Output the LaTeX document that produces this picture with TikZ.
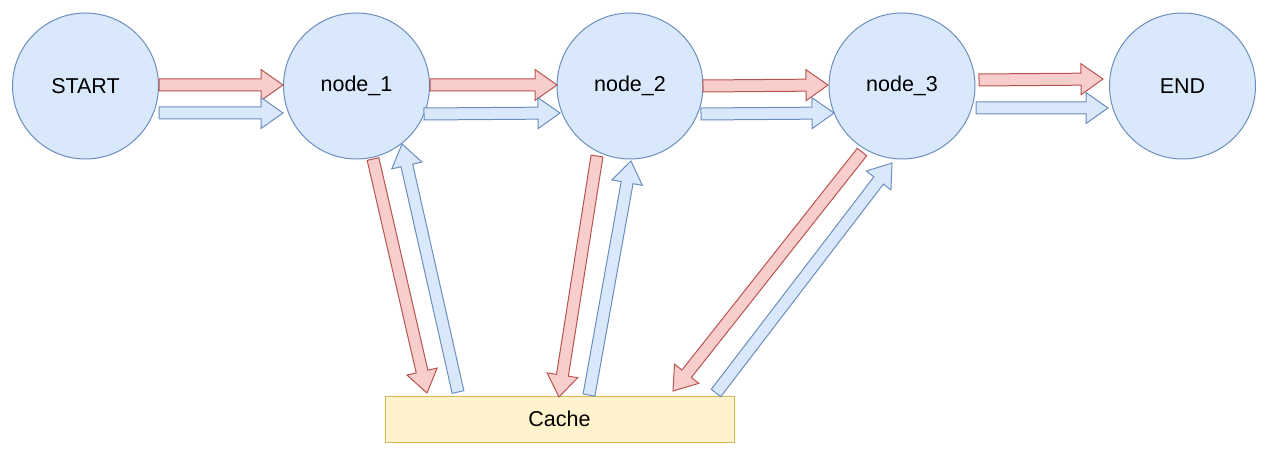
\documentclass[tikz,border=0pt]{standalone}
\usepackage{fontspec}
\setmainfont{Liberation Sans}
\usetikzlibrary{calc}
\definecolor{bfill}{HTML}{DAE8FC}
\definecolor{bline}{HTML}{6C8EBF}
\definecolor{rfill}{HTML}{F8CECC}
\definecolor{rline}{HTML}{B85450}
\definecolor{yfill}{HTML}{FFF2CC}
\definecolor{yline}{HTML}{D6B656}
\newcommand\blockarr[3]{%
  \coordinate (#2h) at ($(#3)!22pt!(#2)$);
  \draw[#1] ($(#2)!6pt!90:(#3)$) -- ($(#2h)!6pt!-90:(#2)$) -- ($(#2h)!15.5pt!-90:(#2)$)
    -- (#3) -- ($(#2h)!15.5pt!90:(#2)$) -- ($(#2h)!6pt!90:(#2)$) -- ($(#2)!6pt!-90:(#3)$) -- cycle;}
\begin{document}
\begin{tikzpicture}[x=1pt,y=-1pt,
  statenode/.style={circle,draw=bline,fill=bfill,line width=1pt,minimum size=146pt,inner sep=0pt,
    font=\fontsize{21.5}{26}\selectfont},
  cachebox/.style={draw=yline,fill=yfill,line width=1pt,minimum width=349pt,minimum height=46pt,inner sep=0pt,
    font=\fontsize{21.5}{26}\selectfont},
  redarr/.style={draw=rline,fill=rfill,line width=1pt,line join=miter},
  bluearr/.style={draw=bline,fill=bfill,line width=1pt,line join=miter}]
\useasboundingbox (0,0) rectangle (1269,454);
\node[statenode] (start) at (85.5,86) {START};
\node[statenode] (n1) at (356.5,86) {node\_1};
\node[statenode] (n2) at (630,86) {node\_2};
\node[statenode] (n3) at (902,86) {node\_3};
\node[statenode] (end) at (1182.5,86) {END};
\node[cachebox] (cache) at (559.5,419) {Cache};
% coordinates: tails (t) and tips (p)
\coordinate (a1rt) at (159,85);  \coordinate (a1rp) at (283,85);
\coordinate (a1bt) at (159,113); \coordinate (a1bp) at (283,113);
\coordinate (a2rt) at (430,85);  \coordinate (a2rp) at (557,85);
\coordinate (a2bt) at (424,114); \coordinate (a2bp) at (560,113);
\coordinate (a3rt) at (703,86);  \coordinate (a3rp) at (828,85);
\coordinate (a3bt) at (701,114); \coordinate (a3bp) at (834,113);
\coordinate (a4rt) at (979,80);  \coordinate (a4rp) at (1103,79);
\coordinate (a4bt) at (976,108); \coordinate (a4bp) at (1108,108);
\coordinate (d1rt) at (373,159); \coordinate (d1rp) at (427,393);
\coordinate (d1bt) at (458,392); \coordinate (d1bp) at (402,144);
\coordinate (d2rt) at (597,156); \coordinate (d2rp) at (559,397);
\coordinate (d2bt) at (589,395); \coordinate (d2bp) at (631,161);
\coordinate (d3rt) at (862,152); \coordinate (d3rp) at (673,391);
\coordinate (d3bt) at (716,393); \coordinate (d3bp) at (892,163);
\blockarr{redarr}{a1rt}{a1rp}
\blockarr{bluearr}{a1bt}{a1bp}
\blockarr{redarr}{a2rt}{a2rp}
\blockarr{bluearr}{a2bt}{a2bp}
\blockarr{redarr}{a3rt}{a3rp}
\blockarr{bluearr}{a3bt}{a3bp}
\blockarr{redarr}{a4rt}{a4rp}
\blockarr{bluearr}{a4bt}{a4bp}
\blockarr{redarr}{d1rt}{d1rp}
\blockarr{bluearr}{d1bt}{d1bp}
\blockarr{redarr}{d2rt}{d2rp}
\blockarr{bluearr}{d2bt}{d2bp}
\blockarr{redarr}{d3rt}{d3rp}
\blockarr{bluearr}{d3bt}{d3bp}
\end{tikzpicture}
\end{document}
